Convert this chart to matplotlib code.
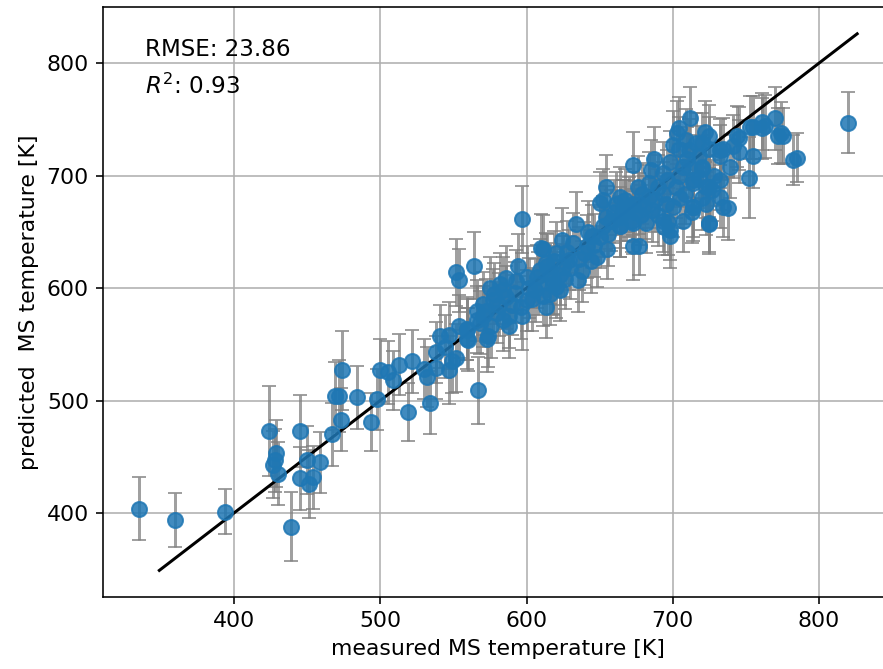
import numpy as np
import matplotlib
matplotlib.use("Agg")
import matplotlib.pyplot as plt

# measured / predicted MS temperature [K] and prediction std
measured = [
    335, 360, 394, 424, 429, 428, 427, 430, 445, 439, 445, 451, 454, 450, 459,
    467, 473, 469, 472, 474, 484, 498, 494, 500, 513, 509, 522, 532, 538, 547,
    549, 538, 541, 547, 559, 559, 552, 519, 534, 567, 568, 552, 554, 564, 594,
    586, 610, 505, 530, 544,
    572, 570, 577, 584, 588, 600, 606, 613, 616, 618, 609, 613, 554, 559, 560,
    573, 584, 590, 581, 574, 576, 580, 586, 592, 596, 602, 604, 597, 578, 575,
    582, 570, 566, 593, 600, 608, 611, 620, 623, 588, 566,
    597, 634, 611, 624, 673, 635, 714, 698, 697, 650, 654, 618, 623, 639, 629,
    645, 652, 654, 664, 661, 668, 652, 677, 684, 625, 620, 616, 641, 648,
    628, 632, 636, 642, 646, 650, 656, 658, 660, 664, 667, 670, 672, 674, 630,
    626, 614, 619, 607, 638, 644, 655,
    700, 703, 673, 687, 711, 720, 716, 725, 732, 693, 707, 684, 664, 673, 679,
    693, 700, 714, 725, 732, 714, 723, 734, 693, 698, 725, 666, 673, 664, 686,
    682, 707, 690, 696, 702, 708, 680, 676, 688, 695, 704, 718, 710, 685, 698,
    705, 720, 728, 690, 678,
    712, 722, 704, 744, 755, 761, 770, 774, 755, 752, 741, 734, 732, 720, 725,
    709, 704, 718, 711, 720, 739, 732, 723, 727, 714,
    820, 782, 785, 775, 763, 761, 745, 745, 738, 725, 713, 694, 677, 753, 772,
]
predicted = [
    404, 394, 401, 473, 453, 447, 443, 435, 473, 388, 431, 426, 432, 447, 445,
    470, 483, 504, 504, 527, 503, 501, 481, 527, 532, 518, 535, 521, 529, 527,
    535, 543, 557, 558, 564, 555, 538, 490, 498, 509, 569, 614, 607, 620, 620,
    609, 636, 525, 528, 548,
    580, 575, 589, 598, 575, 589, 598, 583, 595, 607, 616, 622, 566, 563, 554,
    555, 572, 585, 585, 557, 566, 578, 592, 596, 583, 600, 590, 575, 595, 600,
    604, 586, 580, 606, 610, 604, 593, 601, 612, 566, 572,
    661, 657, 635, 643, 637, 607, 672, 646, 659, 676, 690, 604, 598, 631, 625,
    646, 655, 663, 655, 675, 669, 678, 675, 681, 619, 631, 613, 637, 628,
    632, 640, 626, 650, 638, 645, 648, 660, 668, 663, 678, 672, 660, 668, 618,
    608, 620, 624, 610, 615, 624, 635,
    727, 738, 709, 715, 723, 708, 729, 735, 723, 702, 708, 693, 681, 675, 684,
    684, 672, 693, 690, 681, 672, 675, 672, 660, 652, 658, 669, 658, 655, 669,
    658, 660, 690, 696, 690, 684, 672, 690, 678, 675, 700, 698, 715, 705, 712,
    680, 680, 700, 665, 665,
    751, 739, 742, 735, 743, 742, 751, 738, 717, 698, 726, 724, 717, 729, 724,
    732, 724, 717, 708, 706, 708, 696, 690, 687, 696,
    747, 714, 716, 735, 744, 748, 733, 721, 671, 657, 668, 654, 637, 743, 735,
]
uncert = [
    28, 24, 20, 40, 30, 28, 30, 28, 32, 31, 28, 30, 28, 30, 27,
    28, 28, 30, 32, 35, 28, 27, 26, 28, 27, 26, 28, 27, 28, 30,
    28, 27, 28, 30, 28, 27, 30, 26, 28, 30, 28, 30, 28, 30, 28,
    28, 30, 28, 27, 28,
    28, 27, 28, 30, 28, 27, 28, 27, 28, 30, 28, 27, 28, 27, 28,
    30, 28, 27, 28, 27, 28, 27, 28, 27, 28, 27, 28, 30, 27, 28,
    27, 28, 27, 28, 27, 28, 27, 28, 27, 28, 30,
    30, 28, 30, 28, 30, 28, 30, 28, 30, 27, 28, 28, 27, 28, 27,
    28, 27, 28, 27, 28, 27, 28, 27, 28, 27, 28, 27, 28, 27,
    28, 27, 28, 27, 28, 27, 28, 27, 28, 27, 28, 27, 28, 27, 28,
    27, 28, 27, 28, 27, 28, 27,
    30, 28, 30, 28, 27, 28, 27, 28, 27, 28, 27, 28, 27, 28, 27,
    28, 27, 28, 27, 28, 27, 28, 27, 28, 27, 28, 27, 28, 27, 28,
    27, 28, 28, 27, 28, 27, 28, 27, 28, 27, 28, 27, 28, 27, 28,
    27, 28, 27, 28, 27,
    28, 27, 28, 27, 28, 27, 28, 27, 28, 36, 28, 27, 28, 27, 28,
    27, 28, 27, 28, 27, 28, 27, 28, 27, 28,
    27, 22, 22, 25, 28, 25, 28, 28, 28, 25, 28, 25, 25, 28, 25,
]
diag = [349, 826]
xticks = [400, 500, 600, 700, 800]
yticks = [400, 500, 600, 700, 800]

plt.rcParams['font.size'] = 11

fig = plt.figure(figsize=(883 / 144, 669 / 144), dpi=144)
ax = fig.add_axes([103 / 883, 71.6 / 669, 790 / 883, 590.6 / 669])

ax.errorbar(measured, predicted, yerr=uncert, fmt='none', ecolor='gray',
            alpha=0.75, capsize=3.5, elinewidth=1.5, zorder=1)
ax.plot(diag, diag, color='black', lw=1.5, zorder=2)
ax.plot(measured, predicted, 'o', color='C0', alpha=0.85, markersize=7.5,
        zorder=3)

# metrics in the upper left corner
ax.text(0.053, 0.917, 'RMSE: 23.86', transform=ax.transAxes,
        va='baseline', ha='left', fontsize=11.5)
ax.text(0.053, 0.853, '$R^2$: 0.93', transform=ax.transAxes,
        va='baseline', ha='left', fontsize=11.5)

ax.set_xlim(310.5, 850.5)
ax.set_ylim(325, 850)
ax.set_xticks(xticks)
ax.set_yticks(yticks)
ax.grid(True)
ax.set_axisbelow(True)
ax.set_xlabel('measured MS temperature [K]')
ax.set_ylabel('predicted  MS temperature [K]')

fig.savefig('out.png', dpi=144)
